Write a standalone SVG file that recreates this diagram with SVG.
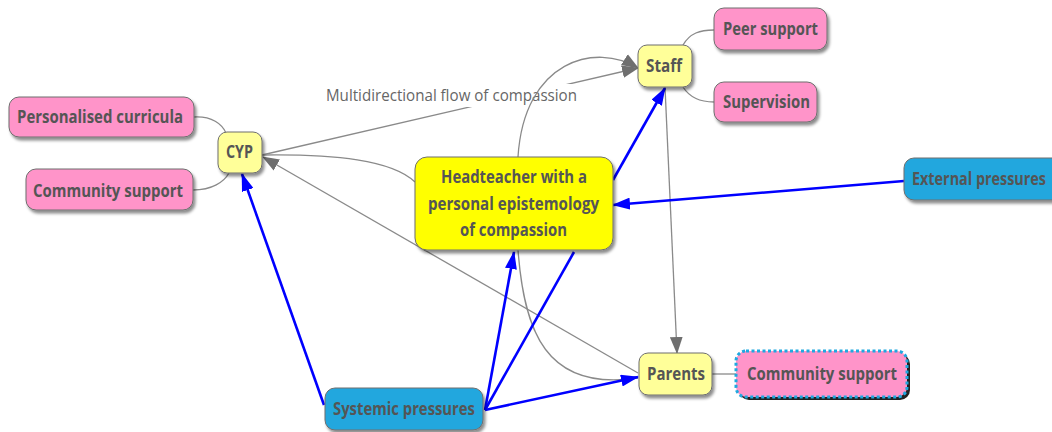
<svg xmlns="http://www.w3.org/2000/svg" width="1052" height="432" viewBox="0 0 1052 432">
  <defs>
    <style>
      .pink { fill: #FF94C9; stroke: #6e6e6e; stroke-width: 1; }
      .lite { fill: #FFFF99; stroke: #6e6e6e; stroke-width: 1; }
      .gold { fill: #FFFF00; stroke: #6e6e6e; stroke-width: 1; }
      .blue { fill: #22A7DE; stroke: #6e6e6e; stroke-width: 1; }
      .lbl { font-family: "Open Sans", "Noto Sans", sans-serif; font-weight: bold; font-size: 17px; fill: #555555; text-anchor: middle; }
      .note { font-family: "Open Sans", "Noto Sans", sans-serif; font-size: 17px; fill: #666666; text-anchor: middle; }
      .thin { fill: none; stroke: #8a8a8a; stroke-width: 1.3; }
      .bold { fill: none; stroke: #0000FF; stroke-width: 2.6; }
    </style>
    <filter id="shadow" x="-20%" y="-20%" width="140%" height="160%">
      <feDropShadow dx="2" dy="3" stdDeviation="1.6" flood-color="#000" flood-opacity="0.45"/>
    </filter>
    <marker id="arrGray" viewBox="0 0 16 12" refX="15" refY="6" markerWidth="17" markerHeight="13" markerUnits="userSpaceOnUse" orient="auto">
      <path d="M0,0 L16,6 L0,12 Z" fill="#6f6f6f"/>
    </marker>
    <marker id="arrBlue" viewBox="0 0 18 12" refX="17" refY="6" markerWidth="18" markerHeight="12" markerUnits="userSpaceOnUse" orient="auto">
      <path d="M0,0 L18,6 L0,12 Z" fill="#0000FF"/>
    </marker>
  </defs>

  <rect width="1052" height="432" fill="#ffffff"/>

  <!-- connectors -->
  <g id="connectors">
    <!-- leaf links -->
    <path class="thin" d="M194,117 C212,116 222,124 226,133"/>
    <path class="thin" d="M193,190 C212,190 224,182 229,173"/>
    <path class="thin" d="M683,45 C690,33 700,30 714,30"/>
    <path class="thin" d="M683,87 C690,98 700,102 714,102"/>
    <path class="thin" d="M712,374 L736,374"/>

    <!-- grey flows -->
    <path class="thin" d="M262,155 L638,68" marker-end="url(#arrGray)"/>
    <rect x="318" y="84" width="266" height="23" fill="#ffffff"/>
    <text class="note" x="451.5" y="101" textLength="251" lengthAdjust="spacingAndGlyphs">Multidirectional flow of compassion</text>
    <path class="thin" d="M518,157 C524,60 596,42 638,68" marker-end="url(#arrGray)"/>
    <path class="thin" d="M415,182 C392,160 335,154 262,155"/>
    <path class="thin" d="M638,373 L263,157" marker-end="url(#arrGray)"/>
    <path class="thin" d="M518,250 C524,330 545,392 638,378"/>
    <path class="thin" d="M665,87 L677,353" marker-end="url(#arrGray)"/>

    <!-- pressure flows -->
    <path class="bold" d="M613,180 L665,88" marker-end="url(#arrBlue)"/>
    <path class="bold" d="M904,181 L613,205" marker-end="url(#arrBlue)"/>
    <path class="bold" d="M324,405 L242,174" marker-end="url(#arrBlue)"/>
    <path class="bold" d="M485,410 L514,252" marker-end="url(#arrBlue)"/>
    <path class="bold" d="M485,410 L574,252"/>
    <path class="bold" d="M485,410 L638,377" marker-end="url(#arrBlue)"/>
  </g>

  <g id="personalised-curricula">
    <rect class="pink" x="9" y="97" width="185" height="40" rx="10" filter="url(#shadow)"/>
    <text class="lbl" x="100" y="123" textLength="166" lengthAdjust="spacingAndGlyphs">Personalised curricula</text>
  </g>

  <g id="community-support-cyp">
    <rect class="pink" x="26" y="169" width="167" height="41" rx="10" filter="url(#shadow)"/>
    <text class="lbl" x="108" y="197" textLength="150" lengthAdjust="spacingAndGlyphs">Community support</text>
  </g>

  <g id="cyp">
    <rect class="lite" x="218" y="132" width="44" height="41" rx="9" filter="url(#shadow)"/>
    <text class="lbl" x="239.5" y="158" textLength="27" lengthAdjust="spacingAndGlyphs">CYP</text>
  </g>

  <g id="staff">
    <rect class="lite" x="638" y="45" width="54" height="42" rx="9" filter="url(#shadow)"/>
    <text class="lbl" x="664" y="72" textLength="36" lengthAdjust="spacingAndGlyphs">Staff</text>
  </g>

  <g id="peer-support">
    <rect class="pink" x="714" y="8" width="113" height="42" rx="10" filter="url(#shadow)"/>
    <text class="lbl" x="770.5" y="35" textLength="95" lengthAdjust="spacingAndGlyphs">Peer support</text>
  </g>

  <g id="supervision">
    <rect class="pink" x="714" y="82" width="103" height="40" rx="10" filter="url(#shadow)"/>
    <text class="lbl" x="766.5" y="108" textLength="87" lengthAdjust="spacingAndGlyphs">Supervision</text>
  </g>

  <g id="headteacher">
    <rect class="gold" x="415" y="157" width="198" height="93" rx="12" filter="url(#shadow)"/>
    <text class="lbl" x="514" y="183" textLength="146" lengthAdjust="spacingAndGlyphs">Headteacher with a</text>
    <text class="lbl" x="513.5" y="210" textLength="171" lengthAdjust="spacingAndGlyphs">personal epistemology</text>
    <text class="lbl" x="513.5" y="236" textLength="107" lengthAdjust="spacingAndGlyphs">of compassion</text>
  </g>

  <g id="external-pressures">
    <rect class="blue" x="904" y="158" width="160" height="42" rx="10" filter="url(#shadow)"/>
    <text class="lbl" x="979" y="185" textLength="134" lengthAdjust="spacingAndGlyphs">External pressures</text>
  </g>

  <g id="systemic-pressures">
    <rect class="blue" x="325" y="388" width="158" height="42" rx="10" filter="url(#shadow)"/>
    <text class="lbl" x="404" y="415" textLength="142" lengthAdjust="spacingAndGlyphs">Systemic pressures</text>
  </g>

  <g id="parents">
    <rect class="lite" x="639" y="353" width="73" height="42" rx="9" filter="url(#shadow)"/>
    <text class="lbl" x="676" y="380" textLength="58" lengthAdjust="spacingAndGlyphs">Parents</text>
  </g>

  <g id="community-support-parents">
    <rect x="739" y="354" width="171" height="46" rx="10" fill="#222222"/>
    <rect x="736" y="351" width="171" height="46" rx="10" fill="#FF94C9" stroke="#1FA8E0" stroke-width="3" stroke-dasharray="3 2.5"/>
    <text class="lbl" x="822" y="380" textLength="150" lengthAdjust="spacingAndGlyphs">Community support</text>
  </g>
</svg>
